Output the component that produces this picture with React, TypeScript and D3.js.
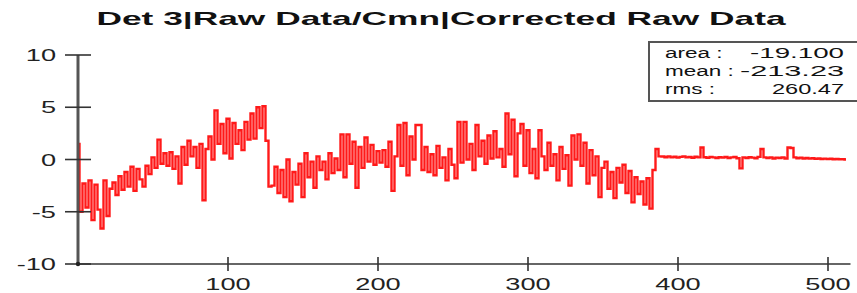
import { useMemo } from 'react';
import * as d3 from 'd3';

const W = 857;
const H = 293;

const title = 'Det 3|Raw Data/Cmn|Corrected Raw Data';

// one value every 2 channels
const channelStep = 2;

// channels 0 .. 126
const rampValues = [
  1.5, -5.0, -2.3, -4.6, -2.0, -5.8, -2.4, -4.8, -6.6, -2.0,
  -5.4, -2.8, -2.2, -3.4, -1.6, -2.9, -1.2, -2.6, -0.7, -3.0,
  -0.9, -1.9, -2.6, -0.6, -1.4, 0.2, -0.8, 1.9, -0.4, 0.6,
  -0.6, 0.7, -0.9, 0.3, -2.3, 1.2, -0.5, 1.8, 0.3, 1.2,
  -0.8, 1.5, -3.9, 1.0, 2.2, 0.0, 4.7, 1.5, 3.4, 0.6,
  3.9, 0.1, 3.5, 1.5, 2.8, 0.9, 3.6, 1.9, 4.4, 2.0,
  5.0, 3.0, 5.1, 1.8,
];

// channels 128 .. 384
const midValues = [
  -2.6, -2.5, -0.7, -3.2, -1.0, -3.6, 0.0, -4.0, -1.2, -2.4,
  -0.4, -3.6, 0.6, -1.7, -0.2, -2.7, 0.3, -1.0, -0.2, -1.9,
  0.6, -1.3, 0.1, -1.0, 2.4, -1.7, 2.4, -0.4, 1.7, -2.7,
  1.2, -0.8, 2.1, -0.2, 1.4, -0.5, 0.8, -0.3, 0.9, -0.7,
  1.7, -3.0, 0.3, 3.3, -0.6, 3.5, -1.5, 2.2, 0.0, 3.3,
  3.3, -1.0, 1.2, -1.2, 0.5, -1.5, 1.3, -0.8, 0.2, -2.0,
  1.0, -0.5, -1.8, 3.6, -0.3, 3.6, 0.0, 1.5, -1.0, 3.3,
  0.3, 1.8, -0.4, 2.3, 0.1, 2.7, 0.2, 1.0, -0.7, 4.4,
  0.5, 3.8, -1.6, 2.5, 3.4, -0.6, 2.8, -1.3, 1.0, -1.8,
  2.8, 0.3, -1.0, 1.6, -0.6, 0.5, -2.0, 1.2, -0.9, 0.4,
  -2.5, 2.3, 0.0, 2.4, -0.6, 1.6, -2.3, 0.9, -1.5, 0.3,
  -3.6, -0.8, -0.2, -2.8, -1.2, -3.7, -0.8, -2.2, -0.5, -3.2,
  -1.1, -4.1, -1.7, -3.3, -2.1, -4.3, -1.8, -4.7, -1.0,
];

// channels 386 .. 512
const tailValues = [
  1.0, 0.3, 0.28, 0.22, 0.3, 0.2, 0.26, 0.18, 0.25, 0.3,
  0.2, 0.24, 0.17, 0.27, 0.2, 1.15, 0.22, 0.16, 0.25, 0.2,
  0.14, 0.22, 0.18, 0.25, 0.15, 0.2, 0.24, 0.12, -0.85, 0.2,
  0.15, 0.22, 0.18, 0.12, 0.25, 1.0, 0.2, 0.15, 0.2, 0.1,
  0.18, 0.14, 0.2, 0.1, 1.15, 1.1, 0.2, 0.12, 0.18, 0.1,
  0.14, 0.08, 0.12, 0.06, 0.1, 0.05, 0.08, 0.04, 0.07, 0.03,
  0.05, 0.02, 0.03, 0.0,
];

const yTicks = [-10, -5, 0, 5, 10];
const xTicks = [100, 200, 300, 400, 500];

const statLabels = ['area :', 'mean :', 'rms :'];
const statValues = ['-19.100', '-213.23', '260.47'];
// widths the stretched numbers take up in the box
const statWidths = [94, 104, 72];

const font = '"Liberation Sans", Arial, Helvetica, sans-serif';

function Txt({ x, y, anchor = 'start', size, weight = 'normal', sx = 1.7, fill = '#111', children }) {
  return (
    <text
      transform={`translate(${x},${y}) scale(${sx},1)`}
      textAnchor={anchor}
      fontFamily={font}
      fontSize={size}
      fontWeight={weight}
      fill={fill}
    >
      {children}
    </text>
  );
}

export default function App() {
  const x = d3.scaleLinear().domain([0, 515]).range([78, 850.5]);
  const y = d3.scaleLinear().domain([-10, 10]).range([264, 55]);

  const points = useMemo(
    () =>
      [...rampValues, ...midValues, ...tailValues].map((v, i) => ({
        ch: i * channelStep,
        v,
      })),
    []
  );

  const path = d3
    .line<{ ch: number; v: number }>()
    .x(d => x(d.ch))
    .y(d => y(d.v))
    .curve(d3.curveStep)(points);

  return (
    <svg
      width={W}
      height={H}
      style={{ position: 'absolute', left: 0, top: 0, background: '#fff' }}
    >
      <Txt x={441} y={25} anchor="middle" size={19} weight="bold" sx={1.86}>
        {title}
      </Txt>

      {/* trace */}
      <path d={path} fill="none" stroke="#ff0000" strokeWidth={2.4} strokeOpacity={0.9} />

      {/* y axis */}
      <line x1={x(0)} x2={x(0)} y1={y(10)} y2={y(-10)} stroke="#555" strokeWidth={3} />
      {yTicks.map(t => (
        <g key={t}>
          <line x1={65} x2={91} y1={y(t)} y2={y(t)} stroke="#333" strokeWidth={1.6} />
          <Txt x={56} y={y(t) + 6} anchor="end" size={17} sx={1.6} fill="#222">
            {t}
          </Txt>
        </g>
      ))}

      {/* x axis */}
      <line x1={x(0)} x2={x(515)} y1={y(-10)} y2={y(-10)} stroke="#333" strokeWidth={1.6} />
      <circle cx={x(0)} cy={y(-10)} r={2.2} fill="#222" />
      {xTicks.map(t => (
        <g key={t}>
          <line x1={x(t)} x2={x(t)} y1={y(-10) - 7} y2={y(-10) + 7} stroke="#333" strokeWidth={1.6} />
          <Txt x={x(t)} y={290} anchor="middle" size={17} sx={1.6} fill="#222">
            {t}
          </Txt>
        </g>
      ))}

      {/* stats box */}
      <rect x={649} y={42} width={212} height={59} fill="#fff" stroke="#555" strokeWidth={2} />
      {statLabels.map((l, i) => (
        <g key={l}>
          <Txt x={665} y={58 + i * 18} size={15} sx={1.5}>
            {l}
          </Txt>
          <text
            x={844 - statWidths[i]}
            y={58 + i * 18}
            textLength={statWidths[i]}
            lengthAdjust="spacingAndGlyphs"
            fontFamily={font}
            fontSize={15}
            fill="#111"
          >
            {statValues[i]}
          </text>
        </g>
      ))}
    </svg>
  );
}
